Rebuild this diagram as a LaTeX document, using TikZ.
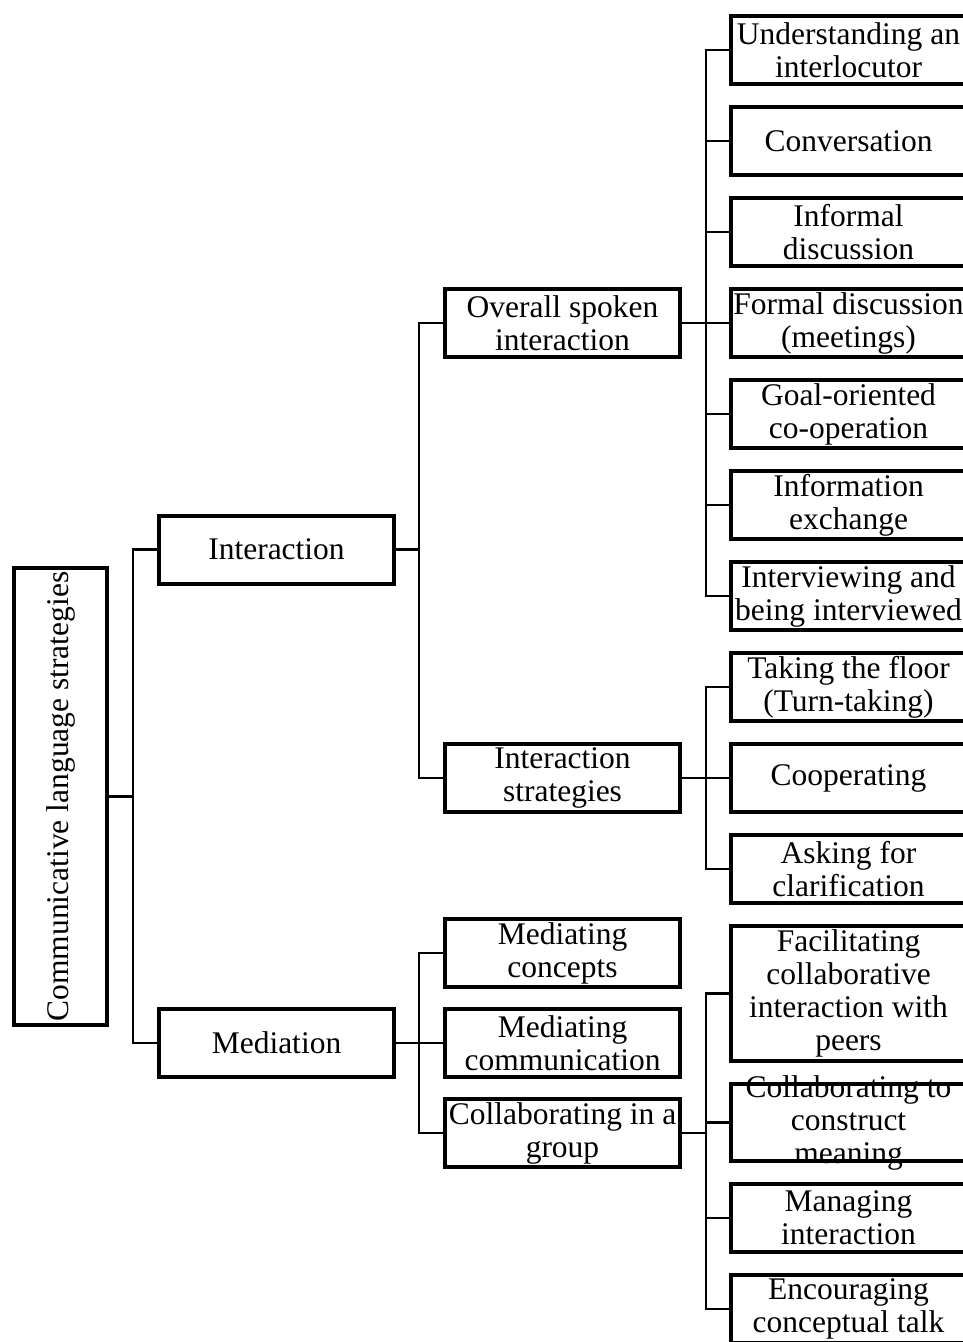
\documentclass[tikz,border=0pt]{standalone}
\usepackage{fontspec}
\setmainfont{Liberation Serif}
\usetikzlibrary{positioning}

\begin{document}
\begin{tikzpicture}[
  x=1pt,y=-1pt,
  node distance=19pt and 47pt,
  box/.style={rectangle,draw=black,line width=4pt,minimum width=235pt,minimum height=68pt,inner sep=0pt,align=center,font=\fontsize{31.5pt}{33pt}\selectfont},
  boxtext/.style={align=center,inner sep=0pt,font=\fontsize{31.5pt}{33pt}\selectfont},
  link/.style={line width=2.5pt,draw=black}]
  \useasboundingbox (0,0) rectangle (963,1342);
  \clip (0,0) rectangle (963,1342);
  % leaves
  \node[box] (und) at (848.5,50) {Understanding an\\interlocutor};
  \node[box,below=of und] (conv) {Conversation};
  \node[box,below=of conv] (inf) {Informal\\discussion};
  \node[box,below=of inf] (form) {Formal discussion\\(meetings)};
  \node[box,below=of form] (goal) {Goal-oriented\\co-operation};
  \node[box,below=of goal] (info) {Information\\exchange};
  \node[box,below=of info] (intv) {Interviewing and\\being interviewed};
  \node[box,below=of intv] (take) {Taking the floor\\(Turn-taking)};
  \node[box,below=of take] (coop) {Cooperating};
  \node[box,below=of coop] (ask) {Asking for\\clarification};
  \node[box,below=of ask,minimum height=135pt] (facil) {Facilitating\\collaborative\\interaction with\\peers};
  \node[box,below=of facil,minimum height=77pt] (constr) {};
  \node[boxtext] (constrtxt) at (constr) {Collaborating to\\construct\\meaning};
  \node[box,below=of constr] (manag) {Managing\\interaction};
  \node[box,below=of manag] (encour) {Encouraging\\conceptual talk};
  % middle level
  \node[box,left=of form] (overall) {Overall spoken\\interaction};
  \node[box,left=of coop] (istrat) {Interaction\\strategies};
  \node[box] (mcomm) at (562.5,1043) {Mediating\\communication};
  \node[box,above=18pt of mcomm] (mconc) {Mediating\\concepts};
  \node[box,below=18pt of mcomm] (cgroup) {Collaborating in a\\group};
  % first level and root
  \node[box] (inter) at (276.5,549.5) {Interaction};
  \node[box] (media) at (276.5,1043) {Mediation};
  \node[box,rotate=90,minimum width=457pt,minimum height=93pt] (root) at (60.5,796.5) {Communicative language strategies};
  % connectors
  \draw[link] (root.south) -- ++(24,0) coordinate (j0);
  \draw[link] (j0) |- (inter.west); \draw[link] (j0) |- (media.west);
  \draw[link] (inter.east) -- ++(23,0) coordinate (j1);
  \draw[link] (j1) |- (overall.west); \draw[link] (j1) |- (istrat.west);
  \draw[link] (media.east) -- ++(23,0) coordinate (j2);
  \foreach \c in {mconc,mcomm,cgroup} \draw[link] (j2) |- (\c.west);
  \draw[link] (overall.east) -- ++(24,0) coordinate (j3);
  \foreach \c in {und,conv,inf,form,goal,info,intv} \draw[link] (j3) |- (\c.west);
  \draw[link] (istrat.east) -- ++(24,0) coordinate (j4);
  \foreach \c in {take,coop,ask} \draw[link] (j4) |- (\c.west);
  \draw[link] (cgroup.east) -- ++(24,0) coordinate (j5);
  \foreach \c in {facil,constr,manag,encour} \draw[link] (j5) |- (\c.west);
\end{tikzpicture}
\end{document}
